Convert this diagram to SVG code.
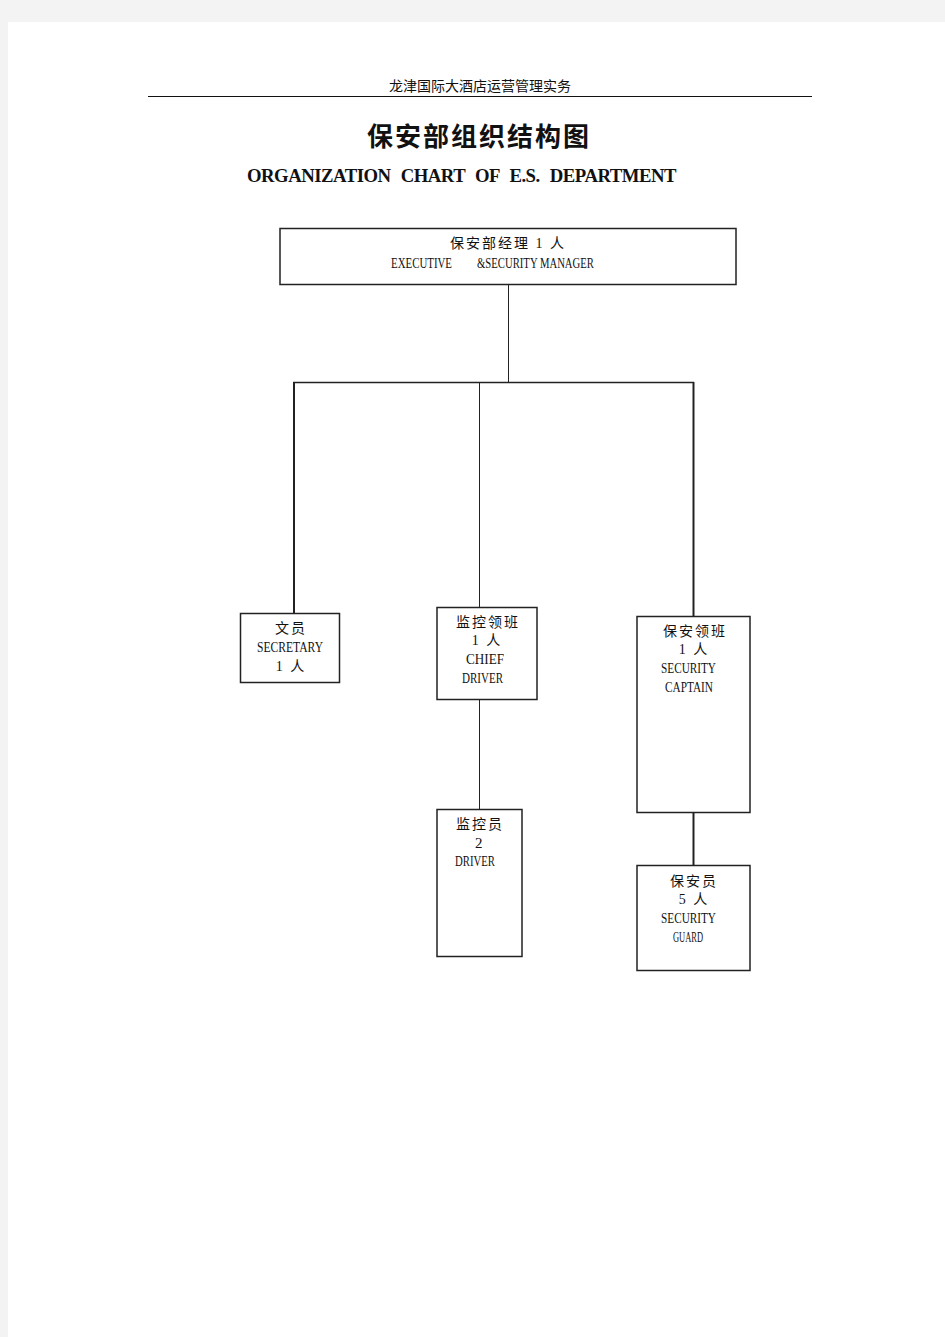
<svg xmlns="http://www.w3.org/2000/svg" width="945" height="1337" viewBox="0 0 945 1337">
<style>
.box{fill:#fff;stroke:#222;stroke-width:1.5}
.ln{stroke:#222;fill:none}
.cjk{font-family:"Liberation Serif","Noto Sans CJK SC",serif;font-size:14px;fill:#111;text-anchor:middle;letter-spacing:2px}
.lat{font-family:"Liberation Serif",serif;font-size:15px;fill:#111}
</style>
<rect width="945" height="1337" fill="#f3f3f3"/>
<rect x="8" y="22" width="937" height="1315" fill="#fff"/>
<text x="480" y="91" font-family="Noto Sans CJK SC, sans-serif" font-size="14" text-anchor="middle" fill="#111">龙津国际大酒店运营管理实务</text>
<line x1="148" y1="96.5" x2="812" y2="96.5" stroke="#111" stroke-width="1"/>
<text x="479" y="146" font-family="Noto Sans CJK SC, serif" font-size="26" font-weight="bold" text-anchor="middle" letter-spacing="2" fill="#111">保安部组织结构图</text>
<text x="247" y="182" font-family="Liberation Serif, serif" font-size="19" font-weight="bold" word-spacing="6" letter-spacing="-0.5" textLength="429" lengthAdjust="spacingAndGlyphs" fill="#111">ORGANIZATION CHART OF E.S. DEPARTMENT</text>
<g id="connectors">
<line class="ln" x1="508.5" y1="285" x2="508.5" y2="383" stroke-width="1"/>
<line class="ln" x1="293" y1="382.5" x2="694" y2="382.5" stroke-width="1.5"/>
<line class="ln" x1="294" y1="382" x2="294" y2="613" stroke-width="2"/>
<line class="ln" x1="479.5" y1="382" x2="479.5" y2="607" stroke-width="1"/>
<line class="ln" x1="693.5" y1="382" x2="693.5" y2="616" stroke-width="2"/>
<line class="ln" x1="479.5" y1="700" x2="479.5" y2="809" stroke-width="1"/>
<line class="ln" x1="693.5" y1="813" x2="693.5" y2="865" stroke-width="2"/>
</g>
<g id="manager">
<rect class="box" x="280" y="228.5" width="456" height="56"/>
<text class="cjk" x="508" y="248">保安部经理 1 人</text>
<text class="lat" x="391" y="268" textLength="61" lengthAdjust="spacingAndGlyphs">EXECUTIVE</text>
<text class="lat" x="477" y="268" textLength="117" lengthAdjust="spacingAndGlyphs">&amp;SECURITY MANAGER</text>
</g>
<g id="secretary">
<rect class="box" x="240.5" y="613.5" width="99" height="69"/>
<text class="cjk" x="291" y="633">文员</text>
<text class="lat" x="257" y="652" textLength="66" lengthAdjust="spacingAndGlyphs">SECRETARY</text>
<text class="cjk" x="291" y="671">1 人</text>
</g>
<g id="chief-driver">
<rect class="box" x="437" y="607.5" width="100" height="92"/>
<text class="cjk" x="488" y="627">监控领班</text>
<text class="cjk" x="487" y="645">1 人</text>
<text class="lat" x="466" y="664" textLength="38" lengthAdjust="spacingAndGlyphs">CHIEF</text>
<text class="lat" x="462" y="683" textLength="41" lengthAdjust="spacingAndGlyphs">DRIVER</text>
</g>
<g id="driver">
<rect class="box" x="437" y="809.5" width="85" height="147"/>
<text class="cjk" x="480" y="829">监控员</text>
<text class="lat" x="475" y="848">2</text>
<text class="lat" x="455" y="866" textLength="40" lengthAdjust="spacingAndGlyphs">DRIVER</text>
</g>
<g id="captain">
<rect class="box" x="637" y="616.5" width="113" height="196"/>
<text class="cjk" x="695" y="636">保安领班</text>
<text class="cjk" x="694" y="654">1 人</text>
<text class="lat" x="661" y="673" textLength="55" lengthAdjust="spacingAndGlyphs">SECURITY</text>
<text class="lat" x="665" y="692" textLength="48" lengthAdjust="spacingAndGlyphs">CAPTAIN</text>
</g>
<g id="guard">
<rect class="box" x="637" y="865.5" width="113" height="105"/>
<text class="cjk" x="694" y="886">保安员</text>
<text class="cjk" x="694" y="904">5 人</text>
<text class="lat" x="661" y="923" textLength="55" lengthAdjust="spacingAndGlyphs">SECURITY</text>
<text class="lat" x="673" y="942" textLength="30" lengthAdjust="spacingAndGlyphs">GUARD</text>
</g>
</svg>
